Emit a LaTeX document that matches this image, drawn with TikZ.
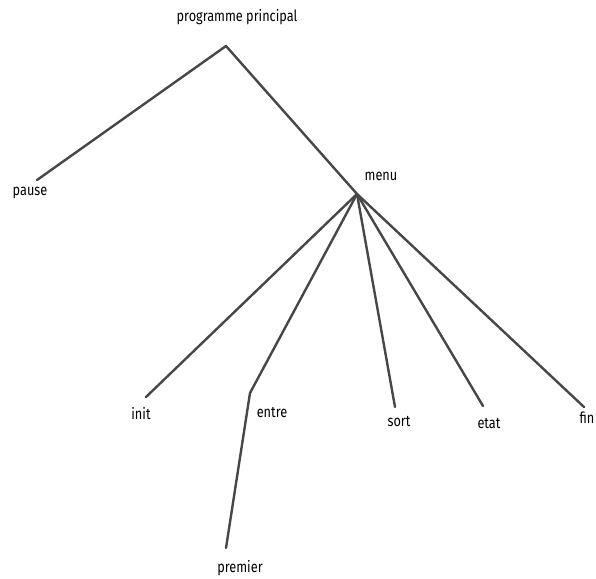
\documentclass[tikz,border=0pt]{standalone}
\usepackage{fontspec}
\setmainfont[FakeStretch=0.82]{Fira Sans}
\begin{document}
\begin{tikzpicture}[x=1pt,y=-1pt,
  lbl/.style={inner sep=0pt,font=\fontsize{15.5}{17}\selectfont},
  edge/.style={draw=black!72,line width=2.4pt,line cap=round,line join=round}]
\useasboundingbox (0,0) rectangle (596,578);
\coordinate (top) at (226,46);
\coordinate (mv) at (357,194);
\coordinate (pe) at (37,180);
\coordinate (ie) at (146,397);
\coordinate (ee) at (250,393);
\coordinate (pre) at (226,548);
\coordinate (se) at (395,407);
\coordinate (ete) at (483,406);
\coordinate (fe) at (584,407);
\node[lbl] (pp) at (237,17) {programme principal};
\node[lbl] (pause) at (30,193) {pause};
\node[lbl] (menu) at (381,176) {menu};
\node[lbl] (init) at (141,414) {init};
\node[lbl] (entre) at (272,412) {entre};
\node[lbl] (premier) at (240,568) {premier};
\node[lbl] (sort) at (399,421) {sort};
\node[lbl] (etat) at (489,423) {etat};
\node[lbl] (fin) at (587,418) {fin};
\draw[edge] (pe) -- (top) -- (mv);
\draw[edge] (mv) -- (ie);
\draw[edge] (mv) -- (ee) -- (pre);
\draw[edge] (mv) -- (se);
\draw[edge] (mv) -- (ete);
\draw[edge] (mv) -- (fe);
\end{tikzpicture}
\end{document}
